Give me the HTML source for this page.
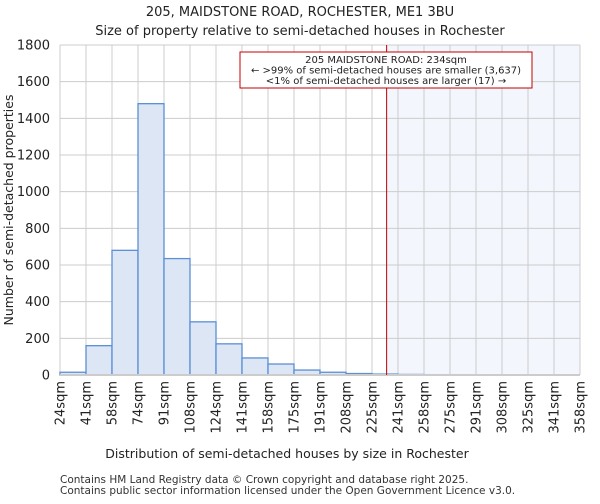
<!DOCTYPE html>
<html><head><meta charset="utf-8"><style>
body{margin:0;background:#fff;font-family:"DejaVu Sans","Liberation Sans",sans-serif;}
</style></head><body>
<svg width="600" height="500" xmlns="http://www.w3.org/2000/svg" font-family="DejaVu Sans, Liberation Sans, sans-serif">
<text x="300" y="16" text-anchor="middle" font-size="13" fill="#222">205, MAIDSTONE ROAD, ROCHESTER, ME1 3BU</text>
<text x="300" y="35" text-anchor="middle" font-size="13" fill="#222">Size of property relative to semi-detached houses in Rochester</text>
<g id="plot"></g>
<text x="287" y="458" text-anchor="middle" font-size="12.5" fill="#222">Distribution of semi-detached houses by size in Rochester</text>
<text transform="translate(13,210) rotate(-90)" text-anchor="middle" font-size="12.5" fill="#222">Number of semi-detached properties</text>
<text x="60" y="483" font-size="10.5" fill="#333">Contains HM Land Registry data © Crown copyright and database right 2025.</text>
<text x="60" y="494" font-size="10.5" fill="#333">Contains public sector information licensed under the Open Government Licence v3.0.</text>
</svg>
<script>
const tickLabels=["24sqm","41sqm","58sqm","74sqm","91sqm","108sqm","124sqm","141sqm","158sqm","175sqm","191sqm","208sqm","225sqm","241sqm","258sqm","275sqm","291sqm","308sqm","325sqm","341sqm","358sqm"];
const binEdges=[24,41,58,74,91,108,124,141,158,175,191,208,225,241,258,275,291,308,325,341,358];
const counts=[15,160,680,1480,635,290,170,93,60,27,15,8,5,3,2,2,1,0,0,0];
const yTicks=[0,200,400,600,800,1000,1200,1400,1600,1800];
const propertySize=234;
const NS="http://www.w3.org/2000/svg";
const L=60,R=580,T=45,B=375;
const x=v=>{let i=0;while(i<binEdges.length-2&&v>binEdges[i+1])i++;return L+(i+(v-binEdges[i])/(binEdges[i+1]-binEdges[i]))*(R-L)/(binEdges.length-1);};
const xi=i=>L+i*(R-L)/(binEdges.length-1);
const y=v=>B-v/1800*(B-T);
const g=document.getElementById('plot');
function mk(t,a){const e=document.createElementNS(NS,t);for(const k in a)e.setAttribute(k,a[k]);g.appendChild(e);return e;}
let hl=mk('rect',{x:x(propertySize),y:T,width:R-x(propertySize),height:B-T,fill:'#f3f6fd'});


yTicks.forEach(v=>{let l=mk('line',{x1:L,x2:R,y1:y(v),y2:y(v),stroke:'#cccccc'});


let t=mk('text',{x:L-10,y:y(v)+4.5,'text-anchor':'end','font-size':13,fill:'#222'});t.textContent=v;

});
tickLabels.forEach((s,i)=>{let l=mk('line',{x1:xi(i),x2:xi(i),y1:T,y2:B,stroke:'#cccccc'});


let t=mk('text',{transform:`translate(${xi(i)+4.5},${B+6}) rotate(-90)`,'text-anchor':'end','font-size':13,fill:'#222'});t.textContent=s;

});
counts.forEach((c,i)=>{let r=mk('rect',{x:xi(i),y:y(c),width:xi(i+1)-xi(i),height:B-y(c),fill:'#dce6f4',stroke:'#5b8fd6','stroke-width':1.3});

});
let ax=mk('line',{x1:L,x2:R,y1:B,y2:B,stroke:'#cccccc','stroke-width':2});


let pl=mk('line',{x1:x(propertySize),x2:x(propertySize),y1:T,y2:B,stroke:'#c00000','stroke-width':1});


let box=mk('rect',{x:240,y:52,width:292,height:36,fill:'#fff',stroke:'#c00000','stroke-width':1});


["205 MAIDSTONE ROAD: 234sqm","← >99% of semi-detached houses are smaller (3,637)","<1% of semi-detached houses are larger (17) →"].forEach((s,i)=>{let t=mk('text',{x:386,y:63+i*10.5,'text-anchor':'middle','font-size':10,fill:'#222'});t.textContent=s;

});
</script>
</body></html>
